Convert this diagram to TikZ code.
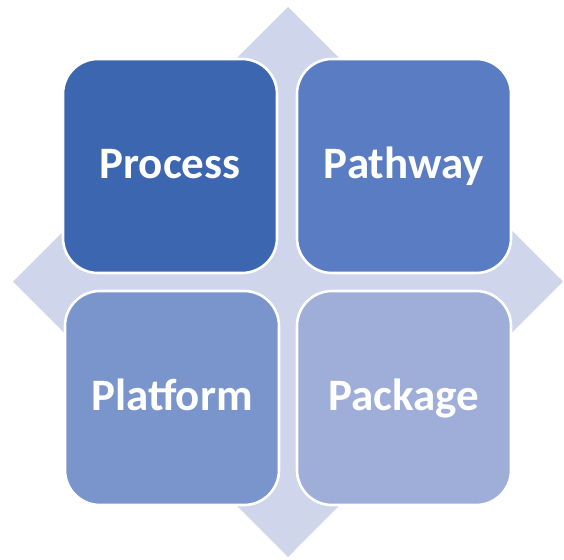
\documentclass[tikz,border=0pt]{standalone}
\usepackage{fontspec}
\setmainfont{Carlito}
\usetikzlibrary{shapes.geometric}
\definecolor{diamondc}{HTML}{CFD5EA}
\definecolor{c1}{HTML}{3D66B0}
\definecolor{c2}{HTML}{5A7CC3}
\definecolor{c3}{HTML}{7A95CC}
\definecolor{c4}{HTML}{9EAED8}
\tikzset{
  quad/.style={draw=white, line width=2.6pt, rounded corners=35pt, minimum width=214pt, minimum height=214pt,
    inner sep=0pt, text=white, font=\bfseries\fontsize{45}{45}\selectfont, text height=28.5pt, text depth=4pt},
}
\begin{document}
\begin{tikzpicture}[x=1pt,y=-1pt]
\useasboundingbox (0,0) rectangle (564,559);
\fill[diamondc] (288,7) -- (563,281.5) -- (288,557) -- (13,281.5) -- cycle;
\node[quad, fill=c1] (process) at (170,166) {Process};
\node[quad, fill=c2] (pathway) at (404,166) {Pathway};
\node[quad, fill=c3] (platform) at (172,398) {Platform};
\node[quad, fill=c4] (package) at (404,398) {Package};
\end{tikzpicture}
\end{document}
